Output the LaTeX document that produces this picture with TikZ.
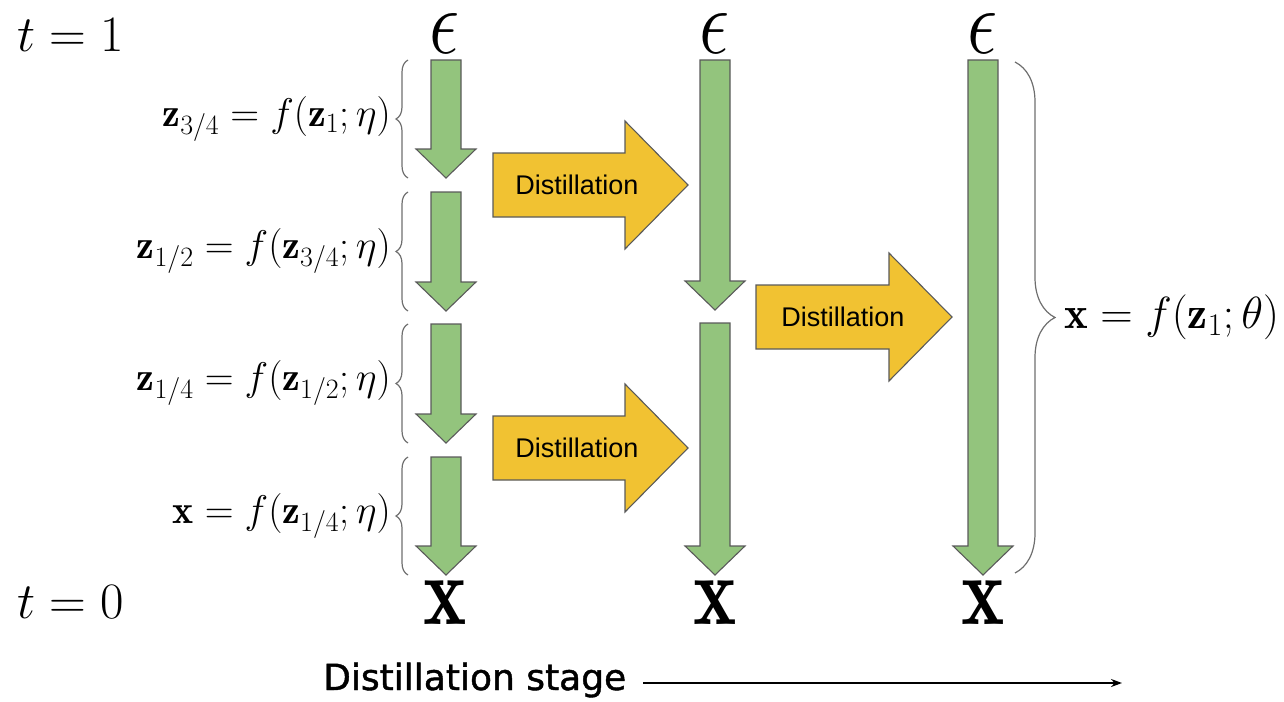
\RequirePackage{fix-cm}
\documentclass[tikz,border=0pt]{standalone}
\usepackage{fontspec}
\usetikzlibrary{decorations.pathreplacing,arrows.meta}
\newfontfamily\boxfont{Liberation Sans}
\newfontfamily\stagefont[FakeBold=1.2]{DejaVu Sans}
\definecolor{flowgreen}{HTML}{93C47D}
\definecolor{distyellow}{HTML}{F1C232}
\definecolor{edgegray}{HTML}{5A5A5A}
\definecolor{bracegray}{HTML}{6E6E6E}
% down-pointing step arrow: centre x, top y, tip y
\newcommand\downflow[3]{%
  \draw[flow] ({#1-15},#2) -- ({#1+15},#2) -- ({#1+15},{#3-29}) -- ({#1+30},{#3-29})
    -- (#1,#3) -- ({#1-30},{#3-29}) -- ({#1-15},{#3-29}) -- cycle;}
% right-pointing distillation arrow: tail x, head-base x, tip x, centre y
\newcommand\distilarrow[4]{%
  \draw[distil] (#1,{#4-32}) -- (#2,{#4-32}) -- (#2,{#4-64}) -- (#3,#4)
    -- (#2,{#4+64}) -- (#2,{#4+32}) -- (#1,{#4+32}) -- cycle;}
\tikzset{
  flow/.style={fill=flowgreen, draw=edgegray, line width=1.1pt, line join=miter},
  distil/.style={fill=distyellow, draw=edgegray, line width=1.1pt, line join=miter},
  bracket/.style={draw=bracegray, line width=1.2pt, decorate,
    decoration={brace, amplitude=#1}},
  disttext/.style={font=\boxfont\fontsize{27}{30}\selectfont, inner sep=0pt},
  steplabel/.style={font=\fontsize{40}{42}\selectfont, inner sep=0pt, anchor=east},
  timelabel/.style={font=\fontsize{51}{54}\selectfont, inner sep=0pt, anchor=base west},
  endpoint/.style={inner sep=0pt},
}
\begin{document}
\begin{tikzpicture}[x=1pt, y=-1pt]
\useasboundingbox (0,0) rectangle (1284,701);

% time labels
\node[timelabel] (t1) at (17,52) {$t = 1$};
\node[timelabel] (t0) at (17,618) {$t = 0$};

% noise and data endpoints of each stage
\foreach \c/\n in {445/1, 715/2, 983/3}{
  \node[endpoint, font=\fontsize{76}{80}\selectfont, anchor=base] (eps\n) at (\c,54)
    {\scalebox{1}[1.22]{$\epsilon$}};
  \node[endpoint, font=\fontsize{82}{90}\selectfont, anchor=base] (x\n) at (\c,624)
    {\scalebox{1}[1.2]{$\mathbf{x}$}};
}

% stage 1: four sampling steps
\downflow{446}{60}{178}
\downflow{446}{192}{311}
\downflow{446}{324}{443}
\downflow{446}{457}{575}

% stage 2: two sampling steps
\downflow{715}{60}{310}
\downflow{715}{323}{575}

% stage 3: one sampling step
\downflow{983}{60}{575}

% distillation arrows
\distilarrow{493}{625}{688}{185}
\distilarrow{493}{625}{688}{448}
\distilarrow{756}{889}{952}{317}
\node[disttext] (d1) at (577,185) {Distillation};
\node[disttext] (d2) at (577,448) {Distillation};
\node[disttext] (d3) at (843,317) {Distillation};

% braces and step equations
\draw[bracket=12] (408,178) -- (408,60);
\draw[bracket=12] (408,311) -- (408,192);
\draw[bracket=12] (408,443) -- (408,324);
\draw[bracket=12] (408,575) -- (408,457);
\node[steplabel] (s1) at (391,119) {$\mathbf{z}_{3/4} = f(\mathbf{z}_1;\eta)$};
\node[steplabel] (s2) at (391,251) {$\mathbf{z}_{1/2} = f(\mathbf{z}_{3/4};\eta)$};
\node[steplabel] (s3) at (391,383) {$\mathbf{z}_{1/4} = f(\mathbf{z}_{1/2};\eta)$};
\node[steplabel] (s4) at (391,516) {$\mathbf{x} = f(\mathbf{z}_{1/4};\eta)$};

\draw[bracket=40] (1015,62) -- (1015,573);
\node[font=\fontsize{45}{48}\selectfont, inner sep=0pt, anchor=west] (sx) at (1064,317)
  {$\mathbf{x} = f(\mathbf{z}_1;\theta)$};

% stage axis
\node[font=\stagefont\fontsize{36}{40}\selectfont, inner sep=0pt, anchor=base west]
  (stage) at (323,690) {Distillation stage};
\coordinate (stageend) at (1122,683);
\draw[line width=1.8pt, -{Stealth[length=11pt,width=8pt]}]
  (stage.east |- stageend) ++(17,0) -- (stageend);
\end{tikzpicture}
\end{document}
